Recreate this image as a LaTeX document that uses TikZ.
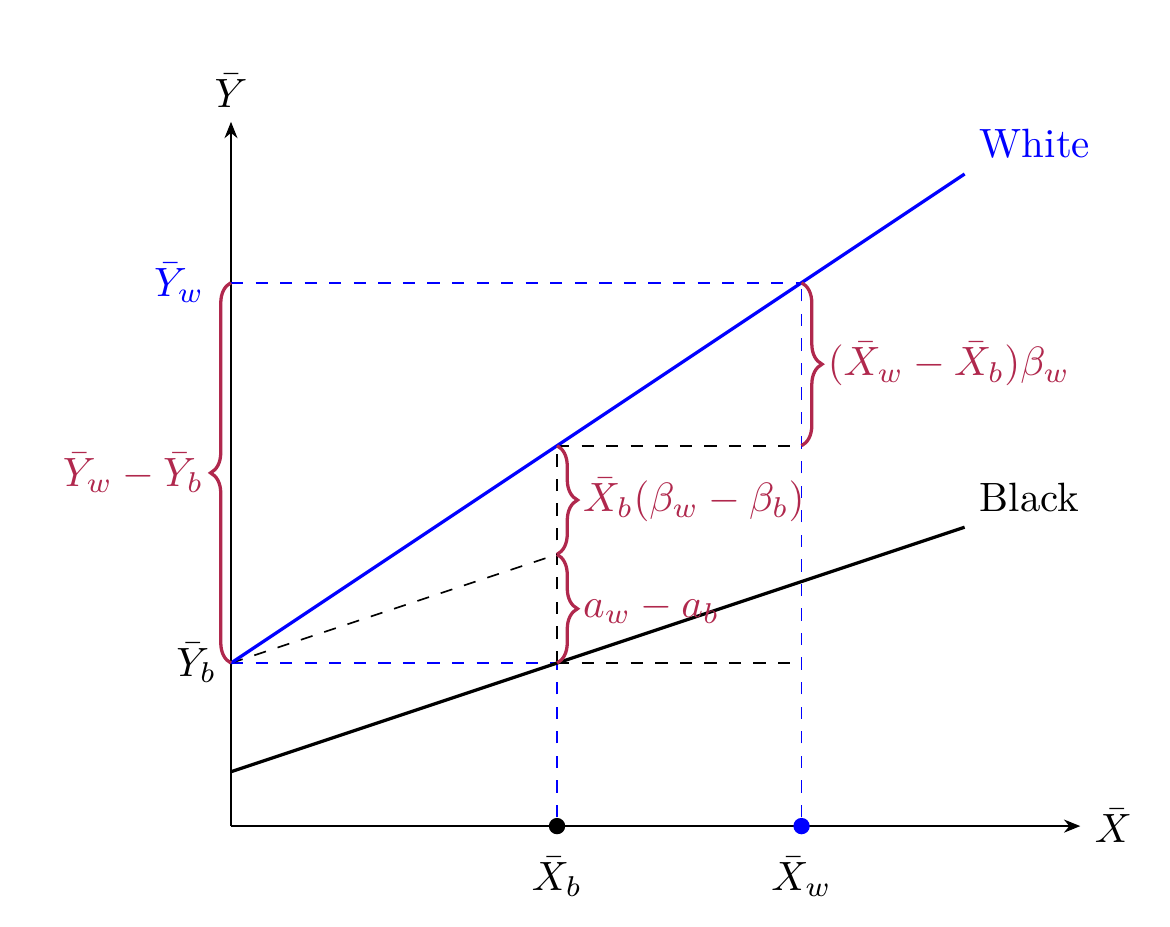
\documentclass[tikz,border=0pt]{standalone}
\usetikzlibrary{decorations.pathreplacing,arrows.meta}
\definecolor{bracecol}{HTML}{B0284D}
\begin{document}
\begin{tikzpicture}[x=0.7cm,y=0.7cm,
  bdash/.style={dashed,blue},
  kdash/.style={dashed,black},
  mainline/.style={thick},
  bracestyle/.style={thick,bracecol,decorate,decoration={brace,amplitude=5pt}},
  blab/.style={text=bracecol},
  axisarrow/.style={-{Stealth[length=4pt,width=3.2pt]}},
  dot/.style={circle,inner sep=0pt,minimum size=4pt}]
\useasboundingbox (-2.834,-1.227) rectangle (11.52,10.135);
% coordinates
\coordinate (O) at (0,0);
\coordinate (XE) at (10.42,0);
\coordinate (YE) at (0,8.64);
\coordinate (Yb) at (0,2);
\coordinate (Yw) at (0,20/3);
\coordinate (P) at (4,2);
\coordinate (Q) at (4,10/3);
\coordinate (R) at (4,14/3);
\coordinate (S) at (7,14/3);
\coordinate (T) at (7,2);
\coordinate (U) at (7,20/3);
\coordinate (B0) at (0,2/3);
\coordinate (B1) at (9,11/3);
\coordinate (W1) at (9,8);
% axes
\draw[axisarrow] (O) -- (XE) node[right] (xl) {$\bar X$};
\draw[axisarrow] (O) -- (YE) node[above] (yl) {$\bar Y$};
% dashed helper lines
\draw[bdash] (Yw) -- (U);
\draw[bdash] (Yb) -- (P);
\draw[kdash] (P) -- (T);
\draw[kdash] (R) -- (S);
\draw[kdash] (P) -- (R);
\draw[kdash] (Yb) -- (Q);
% dots
\node[dot,fill=black] (Xb) at (4,0) {};
\node[dot,fill=blue] (Xw) at (7,0) {};
\draw[bdash] (Xb) -- (P);
\draw[bdash] (Xw) -- (U);
% main lines
\draw[mainline,black] (B0) -- (B1) node[above right] (bl) {Black};
\draw[mainline,blue] (Yb) -- (W1) node[above right,text=blue] (wl) {White};
% axis labels
\node[below=4pt] (xbl) at (Xb) {$\bar X_b$};
\node[below=4pt] (xwl) at (Xw) {$\bar X_w$};
\node[left] (ybl) at (Yb) {$\bar Y_b$};
\node[left=3pt,text=blue] (ywl) at (Yw) {$\bar Y_w$};
% braces
\draw[bracestyle] (Yb) -- (Yw) node[midway,left=3pt,blab] (l1) {$\bar Y_w-\bar Y_b$};
\draw[bracestyle] (U) -- (S) node[midway,right=5pt,blab,inner sep=1pt] (l2) {$(\bar X_w-\bar X_b)\beta_w$};
\draw[bracestyle] (R) -- (Q) node[midway,right=5pt,blab,inner sep=1pt] (l3) {$\bar X_b(\beta_w-\beta_b)$};
\draw[bracestyle] (Q) -- (P) node[midway,right=5pt,blab,inner sep=1pt] (l4) {$a_w-a_b$};
\end{tikzpicture}
\end{document}
